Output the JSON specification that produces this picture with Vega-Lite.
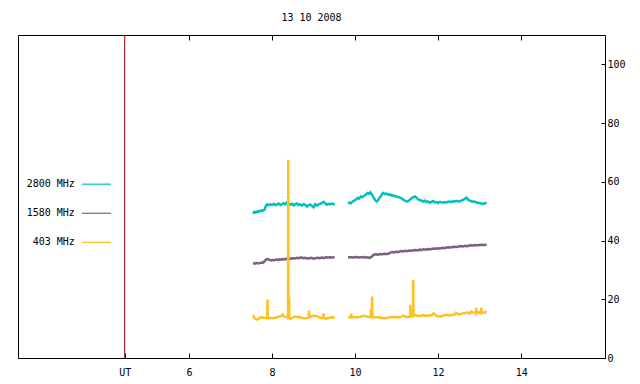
{
  "$schema": "https://vega.github.io/schema/vega-lite/v6.json",
  "width": 587,
  "height": 323,
  "autosize": "none",
  "padding": {"left": 18, "top": 35, "right": 35, "bottom": 26},
  "background": "white",
  "title": {"text": "13 10 2008", "font": "DejaVu Sans Mono", "fontSize": 10, "fontWeight": "normal", "color": "black", "offset": 12, "anchor": "middle"},
  "config": {
    "view": {"stroke": "black", "strokeWidth": 1},
    "font": "DejaVu Sans Mono",
    "axis": {"labelFont": "DejaVu Sans Mono", "labelFontSize": 10, "labelColor": "black", "tickColor": "black", "domain": false, "grid": false, "title": null}
  },
  "resolve": {"axis": {"x": "independent", "y": "independent"}},
  "datasets": {
    "radio": [
      {"t": 7.54, "v": 49.2, "s": "2800 MHz", "g": "a"}, {"t": 7.58, "v": 49.8, "s": "2800 MHz", "g": "a"}, {"t": 7.62, "v": 49.6, "s": "2800 MHz", "g": "a"}, {"t": 7.66, "v": 50.0, "s": "2800 MHz", "g": "a"}, {"t": 7.70, "v": 49.9, "s": "2800 MHz", "g": "a"}, {"t": 7.74, "v": 50.3, "s": "2800 MHz", "g": "a"}, {"t": 7.78, "v": 50.2, "s": "2800 MHz", "g": "a"}, {"t": 7.82, "v": 50.5, "s": "2800 MHz", "g": "a"}, {"t": 7.85, "v": 51.8, "s": "2800 MHz", "g": "a"}, {"t": 7.88, "v": 52.3, "s": "2800 MHz", "g": "a"}, {"t": 7.92, "v": 52.0, "s": "2800 MHz", "g": "a"}, {"t": 7.96, "v": 52.4, "s": "2800 MHz", "g": "a"}, {"t": 8.00, "v": 52.1, "s": "2800 MHz", "g": "a"}, {"t": 8.04, "v": 52.5, "s": "2800 MHz", "g": "a"}, {"t": 8.08, "v": 52.0, "s": "2800 MHz", "g": "a"}, {"t": 8.12, "v": 52.3, "s": "2800 MHz", "g": "a"}, {"t": 8.16, "v": 52.6, "s": "2800 MHz", "g": "a"}, {"t": 8.20, "v": 52.1, "s": "2800 MHz", "g": "a"}, {"t": 8.24, "v": 52.4, "s": "2800 MHz", "g": "a"}, {"t": 8.28, "v": 52.7, "s": "2800 MHz", "g": "a"}, {"t": 8.32, "v": 52.3, "s": "2800 MHz", "g": "a"}, {"t": 8.36, "v": 52.9, "s": "2800 MHz", "g": "a"}, {"t": 8.40, "v": 52.6, "s": "2800 MHz", "g": "a"}, {"t": 8.44, "v": 52.2, "s": "2800 MHz", "g": "a"}, {"t": 8.48, "v": 52.5, "s": "2800 MHz", "g": "a"}, {"t": 8.52, "v": 52.0, "s": "2800 MHz", "g": "a"}, {"t": 8.56, "v": 52.4, "s": "2800 MHz", "g": "a"}, {"t": 8.60, "v": 52.6, "s": "2800 MHz", "g": "a"}, {"t": 8.64, "v": 52.1, "s": "2800 MHz", "g": "a"}, {"t": 8.68, "v": 52.3, "s": "2800 MHz", "g": "a"}, {"t": 8.72, "v": 51.9, "s": "2800 MHz", "g": "a"}, {"t": 8.76, "v": 52.4, "s": "2800 MHz", "g": "a"}, {"t": 8.80, "v": 52.2, "s": "2800 MHz", "g": "a"}, {"t": 8.84, "v": 51.6, "s": "2800 MHz", "g": "a"}, {"t": 8.88, "v": 52.0, "s": "2800 MHz", "g": "a"}, {"t": 8.92, "v": 52.3, "s": "2800 MHz", "g": "a"}, {"t": 8.96, "v": 51.8, "s": "2800 MHz", "g": "a"}, {"t": 9.00, "v": 51.3, "s": "2800 MHz", "g": "a"}, {"t": 9.04, "v": 52.4, "s": "2800 MHz", "g": "a"}, {"t": 9.08, "v": 51.9, "s": "2800 MHz", "g": "a"}, {"t": 9.12, "v": 52.3, "s": "2800 MHz", "g": "a"}, {"t": 9.16, "v": 52.5, "s": "2800 MHz", "g": "a"}, {"t": 9.20, "v": 52.8, "s": "2800 MHz", "g": "a"}, {"t": 9.24, "v": 53.2, "s": "2800 MHz", "g": "a"}, {"t": 9.28, "v": 52.7, "s": "2800 MHz", "g": "a"}, {"t": 9.32, "v": 52.2, "s": "2800 MHz", "g": "a"}, {"t": 9.36, "v": 52.5, "s": "2800 MHz", "g": "a"}, {"t": 9.40, "v": 52.3, "s": "2800 MHz", "g": "a"}, {"t": 9.44, "v": 52.6, "s": "2800 MHz", "g": "a"}, {"t": 9.48, "v": 52.4, "s": "2800 MHz", "g": "a"}, {"t": 9.51, "v": 52.6, "s": "2800 MHz", "g": "a"},
      {"t": 9.83, "v": 52.6, "s": "2800 MHz", "g": "b"}, {"t": 9.86, "v": 52.9, "s": "2800 MHz", "g": "b"}, {"t": 9.90, "v": 52.7, "s": "2800 MHz", "g": "b"}, {"t": 9.94, "v": 53.3, "s": "2800 MHz", "g": "b"}, {"t": 9.98, "v": 53.6, "s": "2800 MHz", "g": "b"}, {"t": 10.02, "v": 54.0, "s": "2800 MHz", "g": "b"}, {"t": 10.06, "v": 54.5, "s": "2800 MHz", "g": "b"}, {"t": 10.10, "v": 54.3, "s": "2800 MHz", "g": "b"}, {"t": 10.14, "v": 55.0, "s": "2800 MHz", "g": "b"}, {"t": 10.18, "v": 54.8, "s": "2800 MHz", "g": "b"}, {"t": 10.22, "v": 55.3, "s": "2800 MHz", "g": "b"}, {"t": 10.26, "v": 55.7, "s": "2800 MHz", "g": "b"}, {"t": 10.30, "v": 56.2, "s": "2800 MHz", "g": "b"}, {"t": 10.34, "v": 55.9, "s": "2800 MHz", "g": "b"}, {"t": 10.37, "v": 56.4, "s": "2800 MHz", "g": "b"}, {"t": 10.40, "v": 55.8, "s": "2800 MHz", "g": "b"}, {"t": 10.43, "v": 55.0, "s": "2800 MHz", "g": "b"}, {"t": 10.46, "v": 54.3, "s": "2800 MHz", "g": "b"}, {"t": 10.49, "v": 53.7, "s": "2800 MHz", "g": "b"}, {"t": 10.52, "v": 53.3, "s": "2800 MHz", "g": "b"}, {"t": 10.55, "v": 53.6, "s": "2800 MHz", "g": "b"}, {"t": 10.58, "v": 54.4, "s": "2800 MHz", "g": "b"}, {"t": 10.62, "v": 55.1, "s": "2800 MHz", "g": "b"}, {"t": 10.65, "v": 55.8, "s": "2800 MHz", "g": "b"}, {"t": 10.68, "v": 56.2, "s": "2800 MHz", "g": "b"}, {"t": 10.72, "v": 55.8, "s": "2800 MHz", "g": "b"}, {"t": 10.76, "v": 56.0, "s": "2800 MHz", "g": "b"}, {"t": 10.80, "v": 55.6, "s": "2800 MHz", "g": "b"}, {"t": 10.84, "v": 55.7, "s": "2800 MHz", "g": "b"}, {"t": 10.88, "v": 55.3, "s": "2800 MHz", "g": "b"}, {"t": 10.92, "v": 55.4, "s": "2800 MHz", "g": "b"}, {"t": 10.96, "v": 55.1, "s": "2800 MHz", "g": "b"}, {"t": 11.00, "v": 55.0, "s": "2800 MHz", "g": "b"}, {"t": 11.04, "v": 54.8, "s": "2800 MHz", "g": "b"}, {"t": 11.08, "v": 54.6, "s": "2800 MHz", "g": "b"}, {"t": 11.12, "v": 54.4, "s": "2800 MHz", "g": "b"}, {"t": 11.16, "v": 53.9, "s": "2800 MHz", "g": "b"}, {"t": 11.20, "v": 53.6, "s": "2800 MHz", "g": "b"}, {"t": 11.24, "v": 53.3, "s": "2800 MHz", "g": "b"}, {"t": 11.28, "v": 53.4, "s": "2800 MHz", "g": "b"}, {"t": 11.32, "v": 53.9, "s": "2800 MHz", "g": "b"}, {"t": 11.36, "v": 54.4, "s": "2800 MHz", "g": "b"}, {"t": 11.40, "v": 54.8, "s": "2800 MHz", "g": "b"}, {"t": 11.44, "v": 55.0, "s": "2800 MHz", "g": "b"}, {"t": 11.48, "v": 54.6, "s": "2800 MHz", "g": "b"}, {"t": 11.52, "v": 54.0, "s": "2800 MHz", "g": "b"}, {"t": 11.56, "v": 53.8, "s": "2800 MHz", "g": "b"}, {"t": 11.60, "v": 53.6, "s": "2800 MHz", "g": "b"}, {"t": 11.64, "v": 53.3, "s": "2800 MHz", "g": "b"}, {"t": 11.68, "v": 53.6, "s": "2800 MHz", "g": "b"}, {"t": 11.72, "v": 53.1, "s": "2800 MHz", "g": "b"}, {"t": 11.76, "v": 53.3, "s": "2800 MHz", "g": "b"}, {"t": 11.80, "v": 52.9, "s": "2800 MHz", "g": "b"}, {"t": 11.84, "v": 53.2, "s": "2800 MHz", "g": "b"}, {"t": 11.88, "v": 53.5, "s": "2800 MHz", "g": "b"}, {"t": 11.92, "v": 53.0, "s": "2800 MHz", "g": "b"}, {"t": 11.96, "v": 53.1, "s": "2800 MHz", "g": "b"}, {"t": 12.00, "v": 52.8, "s": "2800 MHz", "g": "b"}, {"t": 12.04, "v": 53.2, "s": "2800 MHz", "g": "b"}, {"t": 12.08, "v": 53.0, "s": "2800 MHz", "g": "b"}, {"t": 12.12, "v": 52.9, "s": "2800 MHz", "g": "b"}, {"t": 12.16, "v": 53.1, "s": "2800 MHz", "g": "b"}, {"t": 12.20, "v": 53.0, "s": "2800 MHz", "g": "b"}, {"t": 12.24, "v": 53.2, "s": "2800 MHz", "g": "b"}, {"t": 12.28, "v": 53.3, "s": "2800 MHz", "g": "b"}, {"t": 12.32, "v": 53.1, "s": "2800 MHz", "g": "b"}, {"t": 12.36, "v": 53.4, "s": "2800 MHz", "g": "b"}, {"t": 12.40, "v": 53.3, "s": "2800 MHz", "g": "b"}, {"t": 12.44, "v": 53.5, "s": "2800 MHz", "g": "b"}, {"t": 12.48, "v": 53.3, "s": "2800 MHz", "g": "b"}, {"t": 12.52, "v": 53.4, "s": "2800 MHz", "g": "b"}, {"t": 12.56, "v": 53.6, "s": "2800 MHz", "g": "b"}, {"t": 12.60, "v": 53.8, "s": "2800 MHz", "g": "b"}, {"t": 12.64, "v": 54.2, "s": "2800 MHz", "g": "b"}, {"t": 12.68, "v": 54.6, "s": "2800 MHz", "g": "b"}, {"t": 12.72, "v": 54.0, "s": "2800 MHz", "g": "b"}, {"t": 12.76, "v": 53.6, "s": "2800 MHz", "g": "b"}, {"t": 12.80, "v": 53.4, "s": "2800 MHz", "g": "b"}, {"t": 12.84, "v": 53.2, "s": "2800 MHz", "g": "b"}, {"t": 12.88, "v": 53.3, "s": "2800 MHz", "g": "b"}, {"t": 12.92, "v": 53.0, "s": "2800 MHz", "g": "b"}, {"t": 12.96, "v": 52.9, "s": "2800 MHz", "g": "b"}, {"t": 13.00, "v": 52.8, "s": "2800 MHz", "g": "b"}, {"t": 13.04, "v": 52.6, "s": "2800 MHz", "g": "b"}, {"t": 13.08, "v": 52.4, "s": "2800 MHz", "g": "b"}, {"t": 13.12, "v": 52.7, "s": "2800 MHz", "g": "b"}, {"t": 13.17, "v": 52.9, "s": "2800 MHz", "g": "b"},
      {"t": 7.54, "v": 32.3, "s": "1580 MHz", "g": "a"}, {"t": 7.58, "v": 32.1, "s": "1580 MHz", "g": "a"}, {"t": 7.62, "v": 32.4, "s": "1580 MHz", "g": "a"}, {"t": 7.66, "v": 32.2, "s": "1580 MHz", "g": "a"}, {"t": 7.70, "v": 32.3, "s": "1580 MHz", "g": "a"}, {"t": 7.74, "v": 32.5, "s": "1580 MHz", "g": "a"}, {"t": 7.78, "v": 32.4, "s": "1580 MHz", "g": "a"}, {"t": 7.82, "v": 33.0, "s": "1580 MHz", "g": "a"}, {"t": 7.86, "v": 33.6, "s": "1580 MHz", "g": "a"}, {"t": 7.90, "v": 33.7, "s": "1580 MHz", "g": "a"}, {"t": 7.94, "v": 33.4, "s": "1580 MHz", "g": "a"}, {"t": 7.98, "v": 33.2, "s": "1580 MHz", "g": "a"}, {"t": 8.02, "v": 33.4, "s": "1580 MHz", "g": "a"}, {"t": 8.06, "v": 33.3, "s": "1580 MHz", "g": "a"}, {"t": 8.10, "v": 33.5, "s": "1580 MHz", "g": "a"}, {"t": 8.14, "v": 33.4, "s": "1580 MHz", "g": "a"}, {"t": 8.18, "v": 33.6, "s": "1580 MHz", "g": "a"}, {"t": 8.22, "v": 33.5, "s": "1580 MHz", "g": "a"}, {"t": 8.26, "v": 33.7, "s": "1580 MHz", "g": "a"}, {"t": 8.30, "v": 33.6, "s": "1580 MHz", "g": "a"}, {"t": 8.34, "v": 33.8, "s": "1580 MHz", "g": "a"}, {"t": 8.38, "v": 33.7, "s": "1580 MHz", "g": "a"}, {"t": 8.42, "v": 33.9, "s": "1580 MHz", "g": "a"}, {"t": 8.46, "v": 33.8, "s": "1580 MHz", "g": "a"}, {"t": 8.50, "v": 34.0, "s": "1580 MHz", "g": "a"}, {"t": 8.55, "v": 33.9, "s": "1580 MHz", "g": "a"}, {"t": 8.60, "v": 34.1, "s": "1580 MHz", "g": "a"}, {"t": 8.65, "v": 34.0, "s": "1580 MHz", "g": "a"}, {"t": 8.70, "v": 34.3, "s": "1580 MHz", "g": "a"}, {"t": 8.75, "v": 34.0, "s": "1580 MHz", "g": "a"}, {"t": 8.80, "v": 34.1, "s": "1580 MHz", "g": "a"}, {"t": 8.85, "v": 33.9, "s": "1580 MHz", "g": "a"}, {"t": 8.90, "v": 34.0, "s": "1580 MHz", "g": "a"}, {"t": 8.95, "v": 34.1, "s": "1580 MHz", "g": "a"}, {"t": 9.00, "v": 33.8, "s": "1580 MHz", "g": "a"}, {"t": 9.05, "v": 34.0, "s": "1580 MHz", "g": "a"}, {"t": 9.10, "v": 34.1, "s": "1580 MHz", "g": "a"}, {"t": 9.15, "v": 34.0, "s": "1580 MHz", "g": "a"}, {"t": 9.20, "v": 34.2, "s": "1580 MHz", "g": "a"}, {"t": 9.25, "v": 34.1, "s": "1580 MHz", "g": "a"}, {"t": 9.30, "v": 34.3, "s": "1580 MHz", "g": "a"}, {"t": 9.35, "v": 34.2, "s": "1580 MHz", "g": "a"}, {"t": 9.40, "v": 34.3, "s": "1580 MHz", "g": "a"}, {"t": 9.45, "v": 34.2, "s": "1580 MHz", "g": "a"}, {"t": 9.51, "v": 34.3, "s": "1580 MHz", "g": "a"},
      {"t": 9.83, "v": 34.3, "s": "1580 MHz", "g": "b"}, {"t": 9.90, "v": 34.3, "s": "1580 MHz", "g": "b"}, {"t": 9.95, "v": 34.2, "s": "1580 MHz", "g": "b"}, {"t": 10.00, "v": 34.4, "s": "1580 MHz", "g": "b"}, {"t": 10.05, "v": 34.3, "s": "1580 MHz", "g": "b"}, {"t": 10.10, "v": 34.2, "s": "1580 MHz", "g": "b"}, {"t": 10.15, "v": 34.3, "s": "1580 MHz", "g": "b"}, {"t": 10.20, "v": 34.4, "s": "1580 MHz", "g": "b"}, {"t": 10.25, "v": 34.2, "s": "1580 MHz", "g": "b"}, {"t": 10.30, "v": 34.3, "s": "1580 MHz", "g": "b"}, {"t": 10.35, "v": 34.1, "s": "1580 MHz", "g": "b"}, {"t": 10.40, "v": 34.5, "s": "1580 MHz", "g": "b"}, {"t": 10.45, "v": 35.2, "s": "1580 MHz", "g": "b"}, {"t": 10.50, "v": 35.3, "s": "1580 MHz", "g": "b"}, {"t": 10.55, "v": 35.2, "s": "1580 MHz", "g": "b"}, {"t": 10.60, "v": 35.4, "s": "1580 MHz", "g": "b"}, {"t": 10.65, "v": 35.3, "s": "1580 MHz", "g": "b"}, {"t": 10.70, "v": 35.5, "s": "1580 MHz", "g": "b"}, {"t": 10.75, "v": 35.4, "s": "1580 MHz", "g": "b"}, {"t": 10.80, "v": 35.5, "s": "1580 MHz", "g": "b"}, {"t": 10.85, "v": 35.9, "s": "1580 MHz", "g": "b"}, {"t": 10.90, "v": 36.1, "s": "1580 MHz", "g": "b"}, {"t": 10.95, "v": 36.0, "s": "1580 MHz", "g": "b"}, {"t": 11.00, "v": 36.2, "s": "1580 MHz", "g": "b"}, {"t": 11.05, "v": 36.1, "s": "1580 MHz", "g": "b"}, {"t": 11.10, "v": 36.4, "s": "1580 MHz", "g": "b"}, {"t": 11.15, "v": 36.3, "s": "1580 MHz", "g": "b"}, {"t": 11.20, "v": 36.5, "s": "1580 MHz", "g": "b"}, {"t": 11.25, "v": 36.4, "s": "1580 MHz", "g": "b"}, {"t": 11.30, "v": 36.6, "s": "1580 MHz", "g": "b"}, {"t": 11.35, "v": 36.5, "s": "1580 MHz", "g": "b"}, {"t": 11.40, "v": 36.7, "s": "1580 MHz", "g": "b"}, {"t": 11.45, "v": 36.8, "s": "1580 MHz", "g": "b"}, {"t": 11.50, "v": 36.6, "s": "1580 MHz", "g": "b"}, {"t": 11.55, "v": 36.9, "s": "1580 MHz", "g": "b"}, {"t": 11.60, "v": 36.8, "s": "1580 MHz", "g": "b"}, {"t": 11.65, "v": 37.0, "s": "1580 MHz", "g": "b"}, {"t": 11.70, "v": 36.9, "s": "1580 MHz", "g": "b"}, {"t": 11.75, "v": 37.1, "s": "1580 MHz", "g": "b"}, {"t": 11.80, "v": 37.0, "s": "1580 MHz", "g": "b"}, {"t": 11.85, "v": 37.2, "s": "1580 MHz", "g": "b"}, {"t": 11.90, "v": 37.3, "s": "1580 MHz", "g": "b"}, {"t": 11.95, "v": 37.2, "s": "1580 MHz", "g": "b"}, {"t": 12.00, "v": 37.4, "s": "1580 MHz", "g": "b"}, {"t": 12.05, "v": 37.3, "s": "1580 MHz", "g": "b"}, {"t": 12.10, "v": 37.5, "s": "1580 MHz", "g": "b"}, {"t": 12.15, "v": 37.4, "s": "1580 MHz", "g": "b"}, {"t": 12.20, "v": 37.6, "s": "1580 MHz", "g": "b"}, {"t": 12.25, "v": 37.7, "s": "1580 MHz", "g": "b"}, {"t": 12.30, "v": 37.6, "s": "1580 MHz", "g": "b"}, {"t": 12.35, "v": 37.8, "s": "1580 MHz", "g": "b"}, {"t": 12.40, "v": 37.9, "s": "1580 MHz", "g": "b"}, {"t": 12.45, "v": 37.8, "s": "1580 MHz", "g": "b"}, {"t": 12.50, "v": 38.0, "s": "1580 MHz", "g": "b"}, {"t": 12.55, "v": 38.1, "s": "1580 MHz", "g": "b"}, {"t": 12.60, "v": 38.0, "s": "1580 MHz", "g": "b"}, {"t": 12.65, "v": 38.2, "s": "1580 MHz", "g": "b"}, {"t": 12.70, "v": 38.1, "s": "1580 MHz", "g": "b"}, {"t": 12.75, "v": 38.3, "s": "1580 MHz", "g": "b"}, {"t": 12.80, "v": 38.4, "s": "1580 MHz", "g": "b"}, {"t": 12.85, "v": 38.3, "s": "1580 MHz", "g": "b"}, {"t": 12.90, "v": 38.5, "s": "1580 MHz", "g": "b"}, {"t": 12.95, "v": 38.4, "s": "1580 MHz", "g": "b"}, {"t": 13.00, "v": 38.5, "s": "1580 MHz", "g": "b"}, {"t": 13.05, "v": 38.6, "s": "1580 MHz", "g": "b"}, {"t": 13.10, "v": 38.5, "s": "1580 MHz", "g": "b"}, {"t": 13.17, "v": 38.6, "s": "1580 MHz", "g": "b"},
      {"t": 7.54, "v": 14.6, "s": "403 MHz", "g": "a"}, {"t": 7.57, "v": 13.8, "s": "403 MHz", "g": "a"}, {"t": 7.60, "v": 13.3, "s": "403 MHz", "g": "a"}, {"t": 7.64, "v": 13.1, "s": "403 MHz", "g": "a"}, {"t": 7.68, "v": 13.4, "s": "403 MHz", "g": "a"}, {"t": 7.72, "v": 13.8, "s": "403 MHz", "g": "a"}, {"t": 7.76, "v": 13.9, "s": "403 MHz", "g": "a"}, {"t": 7.80, "v": 13.7, "s": "403 MHz", "g": "a"}, {"t": 7.84, "v": 13.6, "s": "403 MHz", "g": "a"}, {"t": 7.885, "v": 13.6, "s": "403 MHz", "g": "a"}, {"t": 7.89, "v": 20.0, "s": "403 MHz", "g": "a"}, {"t": 7.895, "v": 13.6, "s": "403 MHz", "g": "a"}, {"t": 7.95, "v": 13.6, "s": "403 MHz", "g": "a"}, {"t": 8.00, "v": 13.5, "s": "403 MHz", "g": "a"}, {"t": 8.05, "v": 13.6, "s": "403 MHz", "g": "a"}, {"t": 8.10, "v": 13.8, "s": "403 MHz", "g": "a"}, {"t": 8.15, "v": 14.0, "s": "403 MHz", "g": "a"}, {"t": 8.18, "v": 14.2, "s": "403 MHz", "g": "a"}, {"t": 8.22, "v": 14.3, "s": "403 MHz", "g": "a"}, {"t": 8.25, "v": 14.8, "s": "403 MHz", "g": "a"}, {"t": 8.28, "v": 14.2, "s": "403 MHz", "g": "a"}, {"t": 8.32, "v": 14.0, "s": "403 MHz", "g": "a"}, {"t": 8.36, "v": 14.1, "s": "403 MHz", "g": "a"}, {"t": 8.385, "v": 14.0, "s": "403 MHz", "g": "a"}, {"t": 8.39, "v": 67.5, "s": "403 MHz", "g": "a"}, {"t": 8.395, "v": 14.0, "s": "403 MHz", "g": "a"}, {"t": 8.405, "v": 14.2, "s": "403 MHz", "g": "a"}, {"t": 8.41, "v": 20.7, "s": "403 MHz", "g": "a"}, {"t": 8.415, "v": 13.6, "s": "403 MHz", "g": "a"}, {"t": 8.45, "v": 13.3, "s": "403 MHz", "g": "a"}, {"t": 8.50, "v": 13.8, "s": "403 MHz", "g": "a"}, {"t": 8.55, "v": 14.1, "s": "403 MHz", "g": "a"}, {"t": 8.60, "v": 14.0, "s": "403 MHz", "g": "a"}, {"t": 8.65, "v": 14.0, "s": "403 MHz", "g": "a"}, {"t": 8.70, "v": 13.8, "s": "403 MHz", "g": "a"}, {"t": 8.75, "v": 13.5, "s": "403 MHz", "g": "a"}, {"t": 8.80, "v": 13.5, "s": "403 MHz", "g": "a"}, {"t": 8.85, "v": 13.6, "s": "403 MHz", "g": "a"}, {"t": 8.885, "v": 13.9, "s": "403 MHz", "g": "a"}, {"t": 8.89, "v": 16.2, "s": "403 MHz", "g": "a"}, {"t": 8.895, "v": 13.9, "s": "403 MHz", "g": "a"}, {"t": 8.95, "v": 14.2, "s": "403 MHz", "g": "a"}, {"t": 9.00, "v": 14.4, "s": "403 MHz", "g": "a"}, {"t": 9.05, "v": 14.3, "s": "403 MHz", "g": "a"}, {"t": 9.10, "v": 14.1, "s": "403 MHz", "g": "a"}, {"t": 9.15, "v": 13.8, "s": "403 MHz", "g": "a"}, {"t": 9.20, "v": 13.6, "s": "403 MHz", "g": "a"}, {"t": 9.235, "v": 13.8, "s": "403 MHz", "g": "a"}, {"t": 9.24, "v": 15.2, "s": "403 MHz", "g": "a"}, {"t": 9.245, "v": 13.6, "s": "403 MHz", "g": "a"}, {"t": 9.30, "v": 13.4, "s": "403 MHz", "g": "a"}, {"t": 9.35, "v": 13.6, "s": "403 MHz", "g": "a"}, {"t": 9.40, "v": 13.7, "s": "403 MHz", "g": "a"}, {"t": 9.45, "v": 13.9, "s": "403 MHz", "g": "a"}, {"t": 9.51, "v": 13.8, "s": "403 MHz", "g": "a"},
      {"t": 9.83, "v": 13.9, "s": "403 MHz", "g": "b"}, {"t": 9.88, "v": 13.9, "s": "403 MHz", "g": "b"}, {"t": 9.905, "v": 14.2, "s": "403 MHz", "g": "b"}, {"t": 9.91, "v": 15.1, "s": "403 MHz", "g": "b"}, {"t": 9.915, "v": 13.9, "s": "403 MHz", "g": "b"}, {"t": 9.98, "v": 13.9, "s": "403 MHz", "g": "b"}, {"t": 10.05, "v": 13.9, "s": "403 MHz", "g": "b"}, {"t": 10.12, "v": 14.0, "s": "403 MHz", "g": "b"}, {"t": 10.18, "v": 14.3, "s": "403 MHz", "g": "b"}, {"t": 10.25, "v": 14.3, "s": "403 MHz", "g": "b"}, {"t": 10.32, "v": 14.0, "s": "403 MHz", "g": "b"}, {"t": 10.375, "v": 14.0, "s": "403 MHz", "g": "b"}, {"t": 10.38, "v": 16.7, "s": "403 MHz", "g": "b"}, {"t": 10.40, "v": 14.0, "s": "403 MHz", "g": "b"}, {"t": 10.41, "v": 20.9, "s": "403 MHz", "g": "b"}, {"t": 10.42, "v": 14.0, "s": "403 MHz", "g": "b"}, {"t": 10.46, "v": 13.9, "s": "403 MHz", "g": "b"}, {"t": 10.52, "v": 13.9, "s": "403 MHz", "g": "b"}, {"t": 10.58, "v": 13.9, "s": "403 MHz", "g": "b"}, {"t": 10.64, "v": 13.6, "s": "403 MHz", "g": "b"}, {"t": 10.70, "v": 13.5, "s": "403 MHz", "g": "b"}, {"t": 10.76, "v": 13.5, "s": "403 MHz", "g": "b"}, {"t": 10.82, "v": 13.9, "s": "403 MHz", "g": "b"}, {"t": 10.88, "v": 14.0, "s": "403 MHz", "g": "b"}, {"t": 10.94, "v": 14.0, "s": "403 MHz", "g": "b"}, {"t": 11.00, "v": 13.9, "s": "403 MHz", "g": "b"}, {"t": 11.05, "v": 13.9, "s": "403 MHz", "g": "b"}, {"t": 11.10, "v": 14.0, "s": "403 MHz", "g": "b"}, {"t": 11.16, "v": 14.4, "s": "403 MHz", "g": "b"}, {"t": 11.20, "v": 14.1, "s": "403 MHz", "g": "b"}, {"t": 11.26, "v": 14.0, "s": "403 MHz", "g": "b"}, {"t": 11.325, "v": 14.1, "s": "403 MHz", "g": "b"}, {"t": 11.33, "v": 18.1, "s": "403 MHz", "g": "b"}, {"t": 11.335, "v": 14.2, "s": "403 MHz", "g": "b"}, {"t": 11.395, "v": 14.2, "s": "403 MHz", "g": "b"}, {"t": 11.40, "v": 26.6, "s": "403 MHz", "g": "b"}, {"t": 11.405, "v": 14.4, "s": "403 MHz", "g": "b"}, {"t": 11.45, "v": 14.6, "s": "403 MHz", "g": "b"}, {"t": 11.50, "v": 14.4, "s": "403 MHz", "g": "b"}, {"t": 11.55, "v": 14.3, "s": "403 MHz", "g": "b"}, {"t": 11.60, "v": 14.4, "s": "403 MHz", "g": "b"}, {"t": 11.65, "v": 14.6, "s": "403 MHz", "g": "b"}, {"t": 11.70, "v": 14.4, "s": "403 MHz", "g": "b"}, {"t": 11.75, "v": 14.4, "s": "403 MHz", "g": "b"}, {"t": 11.80, "v": 14.6, "s": "403 MHz", "g": "b"}, {"t": 11.85, "v": 14.5, "s": "403 MHz", "g": "b"}, {"t": 11.89, "v": 15.2, "s": "403 MHz", "g": "b"}, {"t": 11.93, "v": 14.7, "s": "403 MHz", "g": "b"}, {"t": 11.98, "v": 14.2, "s": "403 MHz", "g": "b"}, {"t": 12.04, "v": 14.1, "s": "403 MHz", "g": "b"}, {"t": 12.10, "v": 14.3, "s": "403 MHz", "g": "b"}, {"t": 12.16, "v": 14.6, "s": "403 MHz", "g": "b"}, {"t": 12.22, "v": 14.7, "s": "403 MHz", "g": "b"}, {"t": 12.28, "v": 14.5, "s": "403 MHz", "g": "b"}, {"t": 12.34, "v": 14.7, "s": "403 MHz", "g": "b"}, {"t": 12.40, "v": 14.8, "s": "403 MHz", "g": "b"}, {"t": 12.43, "v": 15.4, "s": "403 MHz", "g": "b"}, {"t": 12.48, "v": 14.9, "s": "403 MHz", "g": "b"}, {"t": 12.54, "v": 15.0, "s": "403 MHz", "g": "b"}, {"t": 12.60, "v": 15.2, "s": "403 MHz", "g": "b"}, {"t": 12.66, "v": 15.3, "s": "403 MHz", "g": "b"}, {"t": 12.72, "v": 15.5, "s": "403 MHz", "g": "b"}, {"t": 12.76, "v": 15.2, "s": "403 MHz", "g": "b"}, {"t": 12.80, "v": 15.8, "s": "403 MHz", "g": "b"}, {"t": 12.85, "v": 15.4, "s": "403 MHz", "g": "b"}, {"t": 12.915, "v": 15.6, "s": "403 MHz", "g": "b"}, {"t": 12.92, "v": 17.1, "s": "403 MHz", "g": "b"}, {"t": 12.925, "v": 15.0, "s": "403 MHz", "g": "b"}, {"t": 12.97, "v": 15.6, "s": "403 MHz", "g": "b"}, {"t": 13.035, "v": 15.3, "s": "403 MHz", "g": "b"}, {"t": 13.04, "v": 17.1, "s": "403 MHz", "g": "b"}, {"t": 13.045, "v": 15.5, "s": "403 MHz", "g": "b"}, {"t": 13.09, "v": 15.4, "s": "403 MHz", "g": "b"}, {"t": 13.13, "v": 15.6, "s": "403 MHz", "g": "b"}, {"t": 13.17, "v": 15.4, "s": "403 MHz", "g": "b"}
    ],
    "ut": [{"t": 4.45}],
    "one": [{}]
  },
  "layer": [
    {
      "data": {"name": "radio"},
      "mark": {"type": "line", "interpolate": "linear"},
      "encoding": {
        "x": {"field": "t", "type": "quantitative", "scale": {"domain": [1.88, 16.02], "nice": false, "zero": false},
              "axis": {"orient": "bottom", "values": [4.45, 6, 8, 10, 12, 14], "labelExpr": "datum.value < 5 ? 'UT' : datum.label", "tickSize": -5, "labelPadding": 14, "labelFlush": false, "labelOverlap": false}},
        "y": {"field": "v", "type": "quantitative", "scale": {"domain": [0, 110], "nice": false, "zero": true},
              "axis": {"orient": "right", "values": [0, 20, 40, 60, 80, 100], "tickSize": -4, "labelPadding": 6, "labelAlign": "left", "labelFlush": false, "labelOverlap": false}},
        "color": {"field": "s", "type": "nominal", "scale": {"domain": ["2800 MHz", "1580 MHz", "403 MHz"], "range": ["#00c0c0", "#7d5f80", "#ffc020"]}, "legend": null},
        "strokeWidth": {"field": "s", "type": "nominal", "scale": {"domain": ["2800 MHz", "1580 MHz", "403 MHz"], "range": [2.5, 2.5, 1.2]}, "legend": null},
        "detail": {"field": "g"}
      }
    },
    {
      "data": {"name": "ut"},
      "mark": {"type": "rule", "color": "#a00000", "strokeWidth": 1},
      "encoding": {
        "x": {"field": "t", "type": "quantitative",
              "axis": {"orient": "top", "values": [6, 8, 10, 12, 14], "labels": false, "tickSize": -5}}
      }
    },
    {"data": {"name": "one"}, "mark": {"type": "text", "align": "right", "baseline": "middle", "fontSize": 10, "font": "DejaVu Sans Mono", "color": "black"},
     "encoding": {"x": {"datum": 3.25, "type": "quantitative", "axis": null}, "y": {"datum": 59.2, "type": "quantitative", "axis": null}, "text": {"value": "2800 MHz"}}},
    {"data": {"name": "one"}, "mark": {"type": "text", "align": "right", "baseline": "middle", "fontSize": 10, "font": "DejaVu Sans Mono", "color": "black"},
     "encoding": {"x": {"datum": 3.25, "type": "quantitative", "axis": null}, "y": {"datum": 49.3, "type": "quantitative", "axis": null}, "text": {"value": "1580 MHz"}}},
    {"data": {"name": "one"}, "mark": {"type": "text", "align": "right", "baseline": "middle", "fontSize": 10, "font": "DejaVu Sans Mono", "color": "black"},
     "encoding": {"x": {"datum": 3.25, "type": "quantitative", "axis": null}, "y": {"datum": 39.4, "type": "quantitative", "axis": null}, "text": {"value": "403 MHz"}}},
    {"data": {"name": "one"}, "mark": {"type": "rule", "color": "#00c0c0", "strokeWidth": 1.2},
     "encoding": {"x": {"datum": 3.42, "type": "quantitative", "axis": null}, "x2": {"datum": 4.12}, "y": {"datum": 59.2, "type": "quantitative", "axis": null}}},
    {"data": {"name": "one"}, "mark": {"type": "rule", "color": "#7d5f80", "strokeWidth": 1.2},
     "encoding": {"x": {"datum": 3.42, "type": "quantitative", "axis": null}, "x2": {"datum": 4.12}, "y": {"datum": 49.3, "type": "quantitative", "axis": null}}},
    {"data": {"name": "one"}, "mark": {"type": "rule", "color": "#ffc020", "strokeWidth": 1.2},
     "encoding": {"x": {"datum": 3.42, "type": "quantitative", "axis": null}, "x2": {"datum": 4.12}, "y": {"datum": 39.4, "type": "quantitative", "axis": null}}}
  ]
}
